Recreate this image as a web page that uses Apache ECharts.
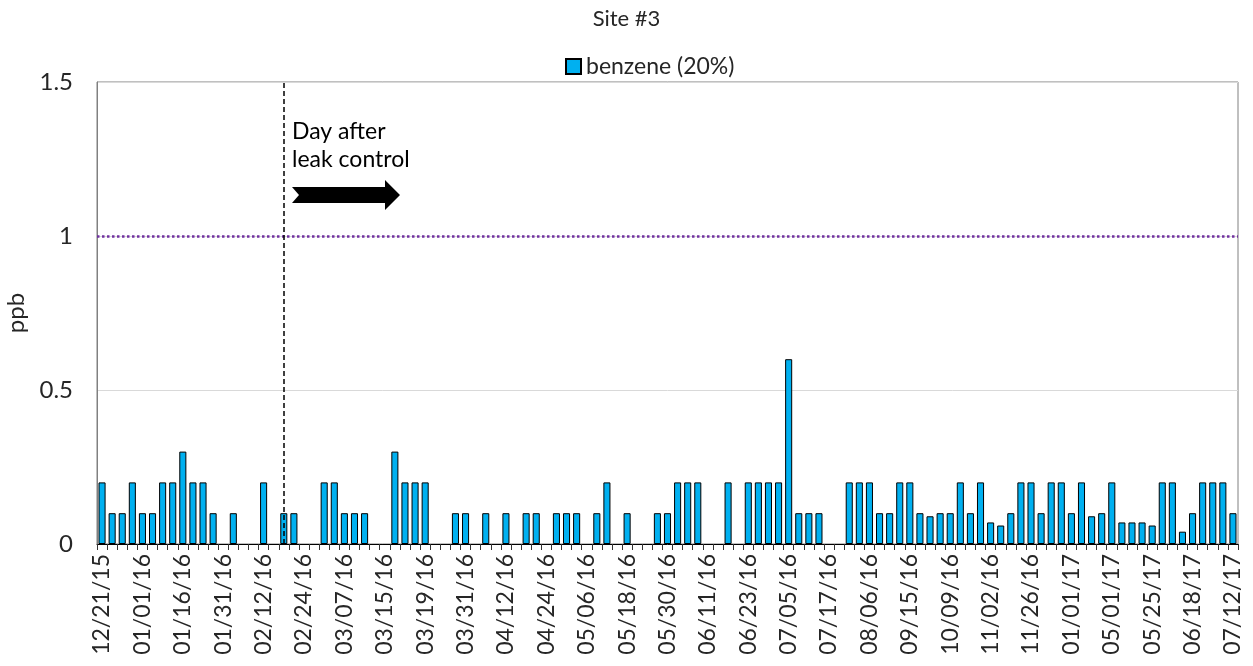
<!DOCTYPE html>
<html>
<head>
<meta charset="utf-8">
<script src="https://cdn.jsdelivr.net/npm/echarts@6/dist/echarts.min.js"></script>
<style>
  html, body { margin: 0; padding: 0; background: #fff; }
  #chart { width: 1253px; height: 666px; }
</style>
</head>
<body>
<div id="chart"></div>
<script>
// tick labels, one every 4th sample
const tickLabels = ['12/21/15', '01/01/16', '01/16/16', '01/31/16', '02/12/16', '02/24/16', '03/07/16',
  '03/15/16', '03/19/16', '03/31/16', '04/12/16', '04/24/16', '05/06/16', '05/18/16', '05/30/16',
  '06/11/16', '06/23/16', '07/05/16', '07/17/16', '08/06/16', '09/15/16', '10/09/16', '11/02/16',
  '11/26/16', '01/01/17', '05/01/17', '05/25/17', '06/18/17', '07/12/17']

// benzene, ppb (113 samples, 0 = no bar)
const benzene = [
  0.2, 0.1, 0.1, 0.2, 0.1, 0.1, 0.2, 0.2, 0.3, 0.2, 0.2, 0.1, 0, 0.1, 0, 0, 0.2, 0, 0.1, 0.1,
  0, 0, 0.2, 0.2, 0.1, 0.1, 0.1, 0, 0, 0.3, 0.2, 0.2, 0.2, 0, 0, 0.1, 0.1, 0, 0.1, 0,
  0.1, 0, 0.1, 0.1, 0, 0.1, 0.1, 0.1, 0, 0.1, 0.2, 0, 0.1, 0, 0, 0.1, 0.1, 0.2, 0.2, 0.2,
  0, 0, 0.2, 0, 0.2, 0.2, 0.2, 0.2, 0.6, 0.1, 0.1, 0.1, 0, 0, 0.2, 0.2, 0.2, 0.1, 0.1, 0.2,
  0.2, 0.1, 0.09, 0.1, 0.1, 0.2, 0.1, 0.2, 0.07, 0.06, 0.1, 0.2, 0.2, 0.1, 0.2, 0.2, 0.1, 0.2, 0.09, 0.1,
  0.2, 0.07, 0.07, 0.07, 0.06, 0.2, 0.2, 0.04, 0.1, 0.2, 0.2, 0.2, 0.1
]

const yTicks = [0, 0.5, 1, 1.5]
const limitValue = 1        // purple dotted line
const leakControlIndex = 18 // day after leak control

const categories = benzene.map((v, i) => (i % 4 === 0 ? tickLabels[i / 4] : ''))
// empty samples draw nothing
const barData = benzene.map(v => (v === 0 ? '-' : v))

const font = 'Lato, "Open Sans", sans-serif'
const textColor = '#262626'

const option = {
  animation: false,
  title: {
    text: 'Site #3',
    left: 'center',
    top: 3,
    textStyle: { fontFamily: font, fontSize: 22, fontWeight: 'normal', color: textColor }
  },
  legend: {
    data: ['benzene (20%)'],
    top: 50,
    left: 560,
    itemWidth: 15,
    itemHeight: 15,
    itemGap: 6,
    icon: 'rect',
    textStyle: { fontFamily: font, fontSize: 23, color: textColor }
  },
  grid: {
    left: 97,
    right: 15,
    top: 82,
    bottom: 122,
    outerBoundsMode: 'none',
    containLabel: false,
    show: true,
    borderColor: '#808080',
    borderWidth: 1
  },
  xAxis: {
    type: 'category',
    data: categories,
    boundaryGap: true,
    axisLine: { lineStyle: { color: '#000', width: 1 } },
    axisTick: { show: true, interval: 0, length: 6, lineStyle: { color: '#333' } },
    axisLabel: {
      interval: 3,
      rotate: 90,
      margin: 10,
      fontFamily: font,
      fontSize: 23,
      color: textColor
    },
    splitLine: { show: false }
  },
  yAxis: {
    type: 'value',
    min: yTicks[0],
    max: yTicks[yTicks.length - 1],
    interval: 0.5,
    name: 'ppb',
    nameLocation: 'middle',
    nameRotate: 90,
    nameGap: 60,
    nameTextStyle: { fontFamily: font, fontSize: 24, color: textColor },
    axisLine: { show: true, lineStyle: { color: '#808080' } },
    axisTick: { show: false },
    axisLabel: { fontFamily: font, fontSize: 24, color: textColor, margin: 24 },
    splitLine: { lineStyle: { color: '#d9d9d9', width: 1 } }
  },
  series: [
    {
      name: 'benzene (20%)',
      type: 'bar',
      data: barData,
      barWidth: '70%',
      itemStyle: { color: '#00b0f0', borderColor: '#000', borderWidth: 1 },
      markLine: {
        silent: true,
        symbol: 'none',
        label: { show: false },
        data: [
          { yAxis: limitValue, lineStyle: { color: '#7030a0', type: 'dotted', width: 2.5 } },
          { xAxis: leakControlIndex, lineStyle: { color: '#000', type: [5, 3], width: 1.5 } }
        ]
      }
    }
  ],
  graphic: [
    {
      type: 'text',
      left: 292,
      top: 118,
      style: {
        text: 'Day after\nleak control',
        fontFamily: font,
        fontSize: 23,
        lineHeight: 28,
        fill: '#000'
      }
    },
    {
      type: 'polygon',
      shape: {
        points: [[292, 187], [385, 187], [385, 180], [400, 195], [385, 210], [385, 203], [292, 203], [299, 195]]
      },
      style: { fill: '#000' }
    }
  ]
}

const chart = echarts.init(document.getElementById('chart'))
chart.setOption(option)
</script>
</body>
</html>
